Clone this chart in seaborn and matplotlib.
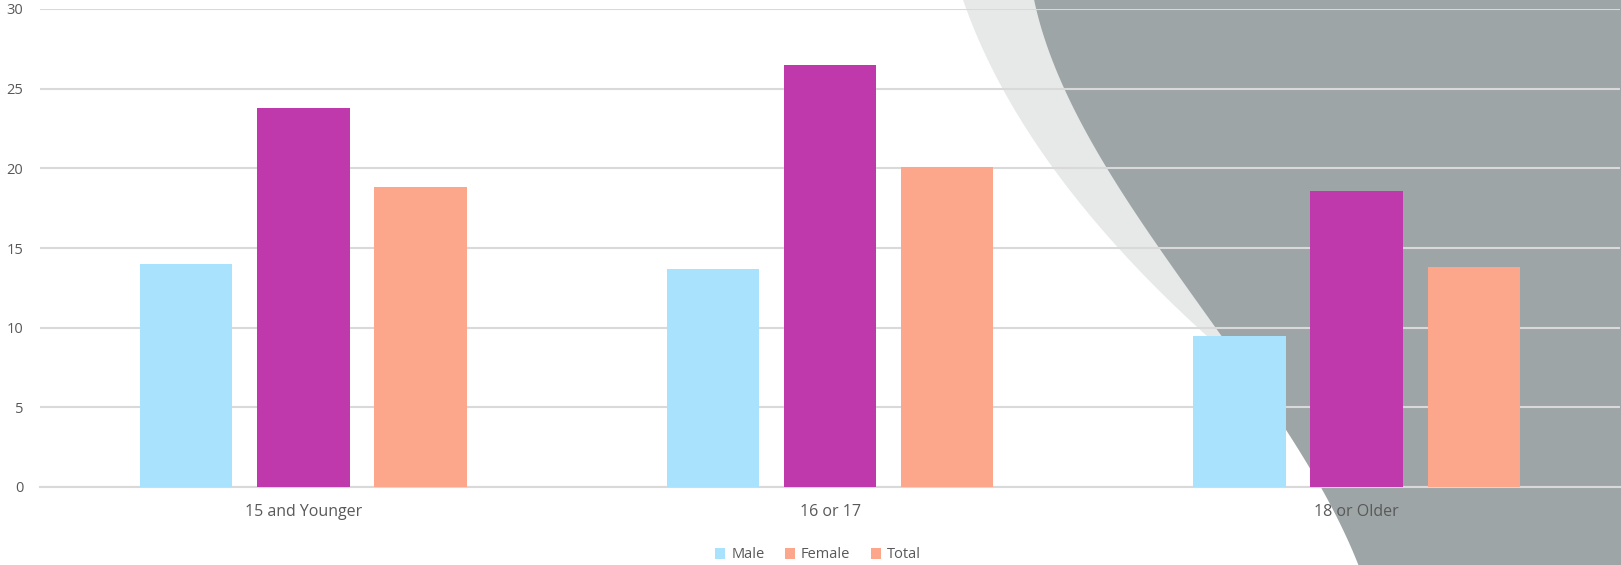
import numpy as np
import pandas as pd
import matplotlib
matplotlib.use('Agg')
import matplotlib.pyplot as plt
from matplotlib.patches import Polygon, Patch
import seaborn as sns

groups = ['15 and Younger', '16 or 17', '18 or Older']
series = ['Male', 'Female', 'Total']
male = [14.0, 13.7, 9.5]
female = [23.8, 26.5, 18.6]
total = [18.8, 20.1, 13.8]

colors = {'Male': '#A9E2FD', 'Female': '#C039AC', 'Total': '#FCA78C'}
# the legend in the original shows Female with the salmon swatch
legend_colors = ['#A9E2FD', '#FCA78C', '#FCA78C']

df = pd.DataFrame({
    'group': groups * 3,
    'series': ['Male'] * 3 + ['Female'] * 3 + ['Total'] * 3,
    'value': male + female + total,
})

W, H = 1621, 565
fig = plt.figure(figsize=(W / 100, H / 100), dpi=100)
ax = fig.add_axes([40 / W, 1 - 487 / H, 1580 / W, 478 / H])
ax.set_facecolor('none')

# decorative background swoosh, smooth curves through points
dark_y = [0, 120, 240, 337, 423, 467, 488, 565]
dark_x = [1033, 1083, 1152, 1218, 1285, 1310, 1322, 1357]
light_y = [0, 120, 240, 336]
light_x = [963, 1021, 1111, 1207]
dark_fit = np.poly1d(np.polyfit(dark_y, dark_x, 3))
light_fit = np.poly1d(np.polyfit(light_y, light_x, 2))
yy = np.linspace(0, H, 200)
diff = light_fit(yy) - dark_fit(yy)
y_merge = yy[np.argmax(diff >= 0)] if (diff >= 0).any() else 370
yl = np.linspace(0, y_merge, 120)


def to_fig(xs, ys):
    return np.column_stack([np.asarray(xs) / W, 1 - np.asarray(ys) / H])


light_pts = np.vstack([to_fig(light_fit(yl), yl), to_fig([W, W], [y_merge, 0])])
dark_pts = np.vstack([to_fig(dark_fit(yy), yy), to_fig([W, W], [H, 0])])
fig.add_artist(Polygon(light_pts, closed=True, transform=fig.transFigure,
                       facecolor='#E7E9E9', edgecolor='none', zorder=-2))
fig.add_artist(Polygon(dark_pts, closed=True, transform=fig.transFigure,
                       facecolor='#9DA5A6', edgecolor='none', zorder=-1))

sns.barplot(data=df, x='group', y='value', hue='series', order=groups,
            hue_order=series, palette=colors, width=0.667, gap=0.21,
            saturation=1, legend=False, ax=ax, zorder=3)

ax.set_ylim(0, 30)
ax.set_xlim(-0.5, 2.5)
ax.set_yticks(range(0, 31, 5))
ax.yaxis.grid(True, color='#D9D9D9', linewidth=1.5, zorder=0)
ax.set_axisbelow(True)
for s in ['top', 'right', 'left']:
    ax.spines[s].set_visible(False)
ax.spines['bottom'].set_color('#D9D9D9')
ax.spines['bottom'].set_linewidth(1.5)
ax.tick_params(axis='both', length=0, colors='#595959', labelsize=10.5)
ax.tick_params(axis='x', labelsize=11.5, pad=12)
ax.tick_params(axis='y', pad=12)
for lab in ax.get_xticklabels() + ax.get_yticklabels():
    lab.set_fontfamily('Open Sans')
ax.set_xlabel('')
ax.set_ylabel('')

handles = [Patch(facecolor=c, edgecolor='none') for c in legend_colors]
fig.legend(handles, series, loc='center', bbox_to_anchor=(818 / W, 1 - 555 / H),
           ncol=3, frameon=False, handlelength=0.7, handleheight=0.7,
           handletextpad=0.4, columnspacing=1.4, borderpad=0,
           prop={'family': 'Open Sans', 'size': 10.5}, labelcolor='#595959')

fig.savefig('out.png', dpi=100)
